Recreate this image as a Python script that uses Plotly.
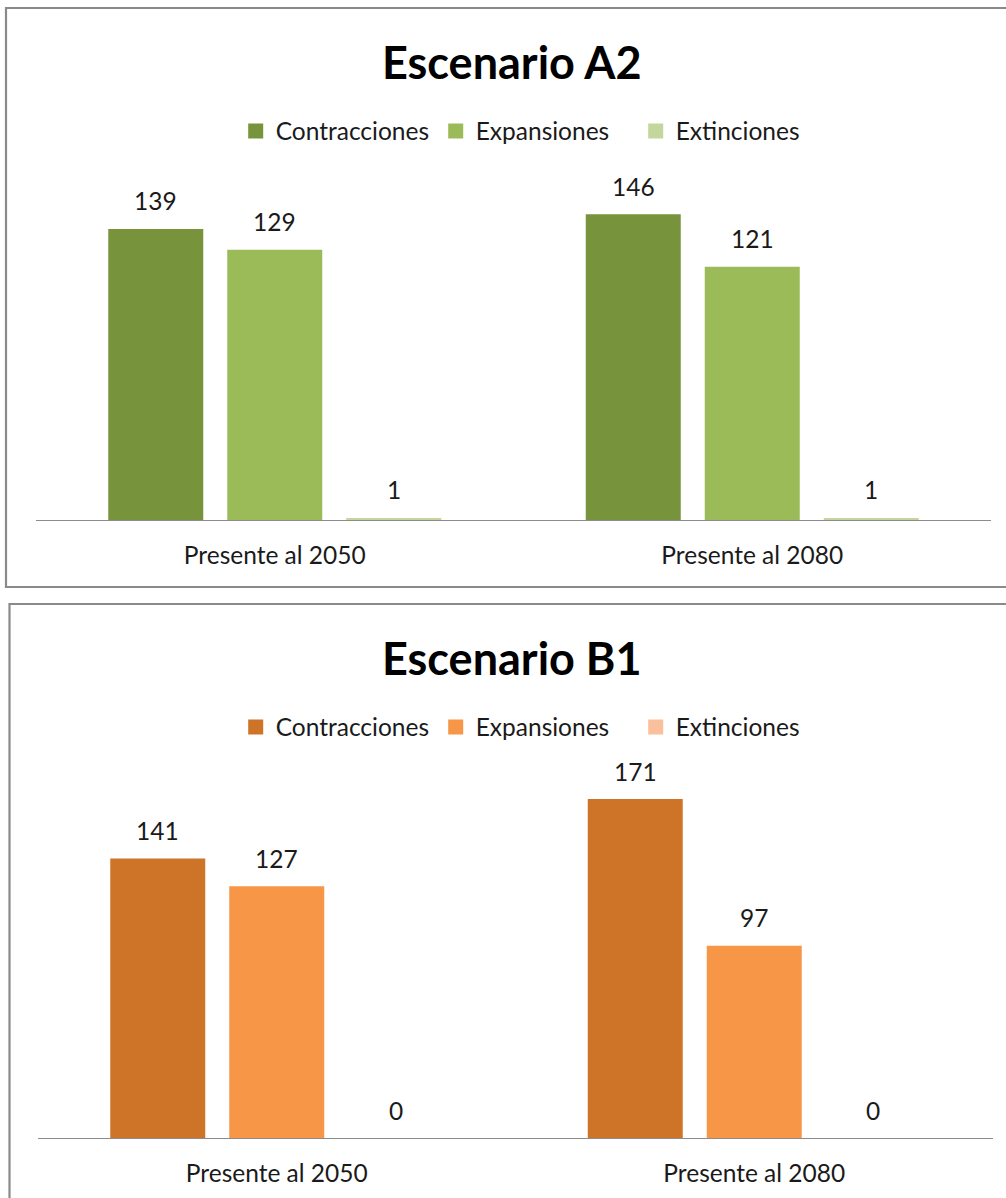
import plotly.graph_objects as go

W, H = 1006, 1198

categories = ["Presente al 2050", "Presente al 2080"]
series_names = ["Contracciones", "Expansiones", "Extinciones"]

a2_contracciones = [139, 146]
a2_expansiones = [129, 121]
a2_extinciones = [1, 1]

b1_contracciones = [141, 171]
b1_expansiones = [127, 97]
b1_extinciones = [0, 0]

titles = ["Escenario A2", "Escenario B1"]

green_colors = ["#77933C", "#9BBB59", "#C3D69B"]
orange_colors = ["#CD7429", "#F79646", "#FAC09C"]

FONT = "Lato, Open Sans, sans-serif"
TXT = "#1a1a1a"
FS = 24.5


def px_x(p):
    return p / W


def px_y(p):
    return 1 - p / H


fig = go.Figure()

panels = [
    dict(data=[a2_contracciones, a2_expansiones, a2_extinciones], colors=green_colors,
         xaxis="x", yaxis="y", legend="legend"),
    dict(data=[b1_contracciones, b1_expansiones, b1_extinciones], colors=orange_colors,
         xaxis="x2", yaxis="y2", legend="legend2"),
]

for panel in panels:
    for name, vals, col in zip(series_names, panel["data"], panel["colors"]):
        fig.add_trace(go.Bar(
            x=categories, y=vals, name=name,
            marker=dict(color=col, line=dict(width=0)),
            xaxis=panel["xaxis"], yaxis=panel["yaxis"],
            showlegend=False, hoverinfo="skip",
        ))
    # legend entries (square swatches)
    for name, col in zip(series_names, panel["colors"]):
        fig.add_trace(go.Scatter(
            x=[None], y=[None], mode="markers", name=name,
            marker=dict(symbol="square", size=15, color=col),
            xaxis=panel["xaxis"], yaxis=panel["yaxis"],
            legend=panel["legend"], showlegend=True, hoverinfo="skip",
        ))

# data labels
slot_shift = [-119, 0, 119]
for panel in panels:
    for k, vals in enumerate(panel["data"]):
        for cat, v in zip(categories, vals):
            fig.add_annotation(
                x=cat, y=v, xref=panel["xaxis"], yref=panel["yaxis"],
                text=str(v), showarrow=False, xshift=slot_shift[k], yshift=28,
                yanchor="middle", font=dict(family=FONT, size=FS, color=TXT),
            )

# titles
for t, yc in zip(titles, [62, 658]):
    fig.add_annotation(x=px_x(512), y=px_y(yc), xref="paper", yref="paper",
                       text=f"<b>{t}</b>", showarrow=False, xanchor="center", yanchor="middle",
                       font=dict(family=FONT, size=45, color="#000000"))

axis_common = dict(showgrid=False, zeroline=False, showline=True, linecolor="#8c8c8c", linewidth=1.3,
                   ticks="", tickfont=dict(family=FONT, size=FS, color=TXT), ticklabelstandoff=13,
                   fixedrange=True)
yaxis_common = dict(showgrid=False, zeroline=False, showline=False, showticklabels=False, fixedrange=True)

legend_common = dict(orientation="h", xanchor="left", yanchor="middle",
                     font=dict(family=FONT, size=FS, color=TXT), bgcolor="rgba(0,0,0,0)",
                     entrywidthmode="pixels", entrywidth=155, itemclick=False, itemdoubleclick=False)

fig.update_layout(
    width=W, height=H,
    margin=dict(l=0, r=0, t=0, b=0),
    paper_bgcolor="white", plot_bgcolor="white",
    barmode="group", bargap=0.2524, bargroupgap=0.2017,
    xaxis=dict(domain=[px_x(36), px_x(991)], anchor="y", **axis_common),
    yaxis=dict(domain=[px_y(520), px_y(170)], range=[0, 350 / 2.094], anchor="x", **yaxis_common),
    xaxis2=dict(domain=[px_x(38), px_x(993)], anchor="y2", **axis_common),
    yaxis2=dict(domain=[px_y(1138), px_y(770)], range=[0, 368 / 1.982], anchor="x2", **yaxis_common),
    legend=dict(x=px_x(235.7), y=px_y(131), **legend_common),
    legend2=dict(x=px_x(235.7), y=px_y(727), **legend_common),
    showlegend=True,
    shapes=[
        dict(type="rect", xref="paper", yref="paper", x0=px_x(6), x1=px_x(1012), y0=px_y(587), y1=px_y(8),
             line=dict(color="#8a8a8a", width=2.2), fillcolor="rgba(0,0,0,0)", layer="below"),
        dict(type="rect", xref="paper", yref="paper", x0=px_x(9.5), x1=px_x(1012), y0=px_y(1210), y1=px_y(604),
             line=dict(color="#8a8a8a", width=2.2), fillcolor="rgba(0,0,0,0)", layer="below"),
    ],
)

fig.write_html("out.html", config={"displayModeBar": False, "staticPlot": False},
               post_script="document.body.style.margin='0px';document.body.style.overflow='hidden';")
